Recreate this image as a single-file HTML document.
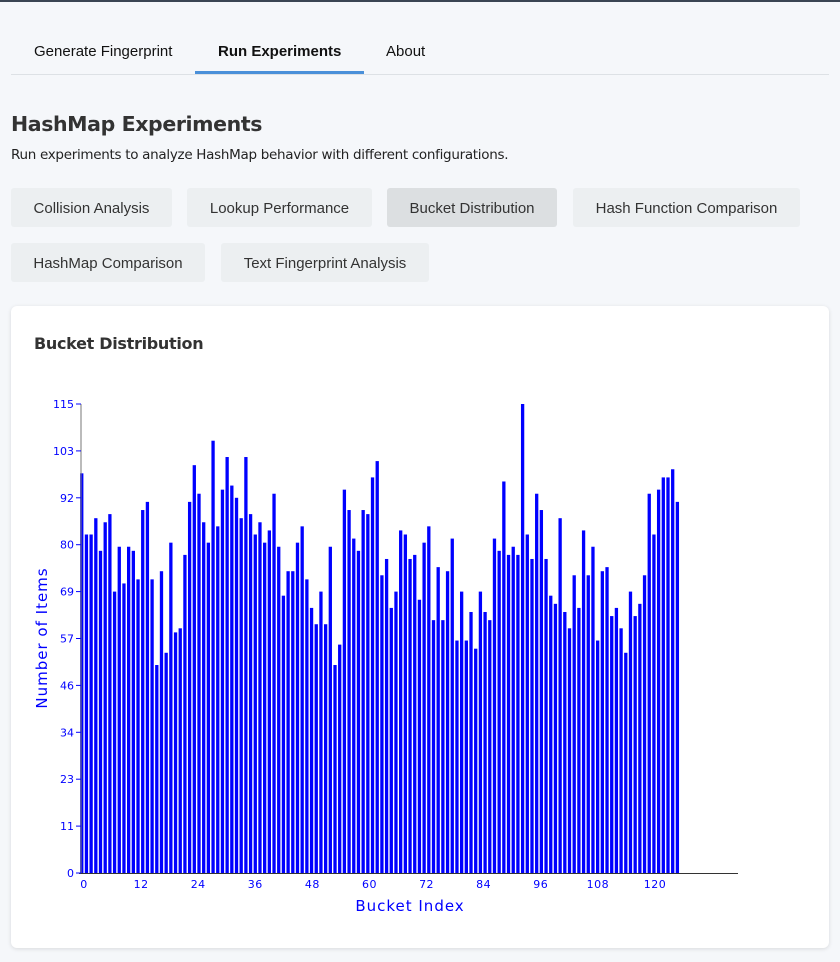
<!DOCTYPE html>
<html><head><meta charset="utf-8"><style>
body{margin:0;width:840px;height:962px;background:#f5f7fa;font-family:"Liberation Sans",sans-serif;position:relative;overflow:hidden;color:#222}
.topbar{position:absolute;left:0;top:0;width:840px;height:2px;background:#3a4553}
.tab{position:absolute;top:43px;font-size:15px;color:#111}
.btn{position:absolute;height:39px;background:#eceff1;border-radius:3px;font-size:15px;color:#333;display:flex;align-items:center;justify-content:center;padding-top:1px;box-sizing:border-box}
.card{position:absolute;left:11px;top:306px;width:818px;height:642px;background:#fff;border-radius:6px;box-shadow:0 1px 4px rgba(0,0,0,.12)}
</style></head><body>
<div class="topbar"></div>
<div class="tab" style="left:34px">Generate Fingerprint</div>
<div class="tab" style="left:218px;font-weight:bold">Run Experiments</div>
<div class="tab" style="left:386px">About</div>
<div style="position:absolute;left:11px;top:74px;width:818px;height:1px;background:#dde1e5"></div>
<div style="position:absolute;left:195px;top:71px;width:169px;height:3px;background:#4a90d9"></div>
<div style="position:absolute;left:11px;top:112px;font-family:'DejaVu Sans',sans-serif;font-weight:bold;font-size:20.5px;color:#333;letter-spacing:-0.4px">HashMap Experiments</div>
<div style="position:absolute;left:11px;top:147px;font-family:'DejaVu Sans',sans-serif;font-size:13.5px;color:#222;letter-spacing:-0.3px">Run experiments to analyze HashMap behavior with different configurations.</div>
<div class="btn" style="left:11px;top:188px;width:161px">Collision Analysis</div>
<div class="btn" style="left:187px;top:188px;width:185px">Lookup Performance</div>
<div class="btn" style="left:387px;top:188px;width:170px;background:#dcdfe1">Bucket Distribution</div>
<div class="btn" style="left:573px;top:188px;width:227px">Hash Function Comparison</div>
<div class="btn" style="left:11px;top:243px;width:194px">HashMap Comparison</div>
<div class="btn" style="left:221px;top:243px;width:208px">Text Fingerprint Analysis</div>
<div class="card">
<div style="position:absolute;left:23px;top:28px;font-family:'DejaVu Sans',sans-serif;font-weight:bold;font-size:16px;color:#333;letter-spacing:-0.3px">Bucket Distribution</div>
</div>
<svg id="chart" width="840" height="962" style="position:absolute;left:0;top:0"></svg>
<script>
const buckets=[98,83,83,87,79,86,88,69,80,71,80,79,72,89,91,72,51,74,54,81,59,60,78,91,100,93,86,81,106,85,94,102,95,92,87,102,88,83,86,81,84,93,80,68,74,74,81,85,72,65,61,69,61,80,51,56,94,89,82,79,89,88,97,101,73,77,65,69,84,83,77,78,67,81,85,62,75,62,74,82,57,69,57,64,55,69,64,62,82,79,96,78,80,78,115,83,77,93,89,77,68,66,87,64,60,73,65,84,73,80,57,74,75,63,65,60,54,69,63,66,73,93,83,94,97,97,99,91];
const yTicks=[0,11.5,23,34.5,46,57.5,69,80.5,92,103.5,115];
const xTicks=[0,12,24,36,48,60,72,84,96,108,120];
const yMax=115;
const NS='http://www.w3.org/2000/svg';
const svg=document.getElementById('chart');
const y0=873,y1=404,x0=81.7,pitch=4.69;
const yS=v=>y0-(v/yMax)*(y0-y1);
const xS=i=>x0+i*pitch;
const xL=i=>84+i*4.758;
function mk(t,a){const e=document.createElementNS(NS,t);for(const k in a)e.setAttribute(k,a[k]);svg.appendChild(e);return e;}
buckets.forEach((v,i)=>{
 const r=mk('rect',{x:xS(i)-1.6,y:yS(v),width:3.3,height:y0-yS(v),fill:'#0000ff'});
 
 
});
const ya=mk('line',{x1:81,y1:y1,x2:81,y2:y0,stroke:'#777','stroke-width':1});


const xa=mk('line',{x1:79,y1:y0+0.5,x2:738,y2:y0+0.5,stroke:'#333','stroke-width':1});


yTicks.forEach(v=>{
 const tk=mk('line',{x1:76,x2:81,y1:yS(v),y2:yS(v),stroke:'#0000ff'});
 
 
 const t=mk('text',{x:74,y:yS(v)+4,'text-anchor':'end','font-size':11,fill:'#0000ff','font-family':'DejaVu Sans, sans-serif'});
 t.textContent=Math.floor(v);
 
 
});
xTicks.forEach(v=>{
 const t=mk('text',{x:xL(v),y:888,'text-anchor':'middle','font-size':11,fill:'#0000ff','font-family':'DejaVu Sans, sans-serif','letter-spacing':'0.5'});
 t.textContent=v;
 
 
});
const xt=mk('text',{x:410,y:911,'text-anchor':'middle','font-size':15,fill:'#0000ff','font-family':'DejaVu Sans, sans-serif','letter-spacing':'1','font-weight':'500'});
xt.textContent='Bucket Index';


const yt=mk('text',{x:0,y:0,'text-anchor':'middle','font-size':15,fill:'#0000ff','font-family':'DejaVu Sans, sans-serif','letter-spacing':'1',transform:'translate(47,638) rotate(-90)'});
yt.textContent='Number of Items';


</script>
</body></html>
